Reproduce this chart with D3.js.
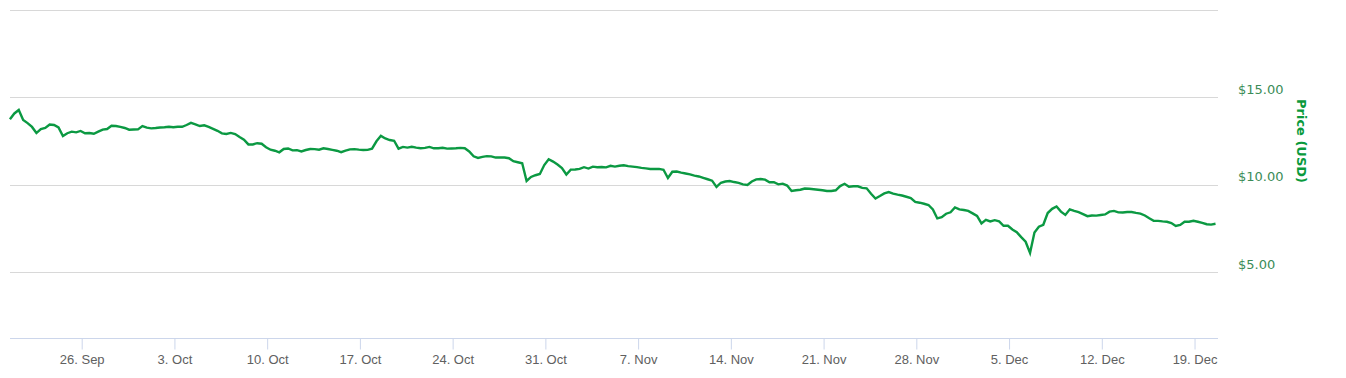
<!DOCTYPE html>
<html>
<head>
<meta charset="utf-8">
<script src="https://cdn.jsdelivr.net/npm/d3@7"></script>
<style>
  html, body { margin: 0; padding: 0; background: #fff; }
  svg { display: block; font-family: "DejaVu Sans", Verdana, sans-serif; }
</style>
</head>
<body>
<div id="chart"></div>
<script>
// ETH price, one reading every 8 hours from the start time
const startTime = new Date(2016, 8, 20, 14, 0);
const stepHours = 8;
const prices = [
  13.73, 14.06, 14.26, 13.69, 13.51, 13.29, 12.94, 13.17, 13.23, 13.43,
  13.40, 13.26, 12.77, 12.93, 13.02, 12.98, 13.06, 12.93, 12.94, 12.90,
  13.02, 13.14, 13.17, 13.36, 13.34, 13.29, 13.23, 13.13, 13.14, 13.15,
  13.34, 13.25, 13.21, 13.23, 13.26, 13.27, 13.30, 13.27, 13.30, 13.30,
  13.40, 13.52, 13.44, 13.34, 13.38, 13.29, 13.18, 13.07, 12.92, 12.89,
  12.95, 12.88, 12.71, 12.56, 12.29, 12.29, 12.36, 12.33, 12.13, 11.99,
  11.93, 11.84, 12.03, 12.06, 11.95, 11.96, 11.89, 11.97, 12.03, 12.02,
  11.99, 12.07, 12.03, 11.98, 11.93, 11.85, 11.94, 12.01, 12.02, 11.99,
  11.97, 11.98, 12.05, 12.47, 12.78, 12.63, 12.54, 12.50, 12.05, 12.15,
  12.11, 12.16, 12.11, 12.07, 12.09, 12.15, 12.07, 12.07, 12.10, 12.05,
  12.06, 12.07, 12.09, 12.07, 11.89, 11.61, 11.52, 11.58, 11.62, 11.61,
  11.54, 11.55, 11.54, 11.50, 11.33, 11.27, 11.21, 10.20, 10.43, 10.53,
  10.60, 11.11, 11.44, 11.31, 11.14, 10.94, 10.57, 10.85, 10.86, 10.89,
  10.99, 10.91, 11.02, 10.99, 11.00, 10.98, 11.07, 11.02, 11.07, 11.10,
  11.05, 11.02, 10.99, 10.95, 10.92, 10.89, 10.89, 10.89, 10.84, 10.37,
  10.73, 10.74, 10.68, 10.63, 10.58, 10.51, 10.46, 10.38, 10.30, 10.22,
  9.86, 10.10, 10.17, 10.20, 10.14, 10.09, 10.01, 9.97, 10.17, 10.29,
  10.31, 10.28, 10.13, 10.13, 10.01, 10.05, 9.94, 9.63, 9.67, 9.70,
  9.77, 9.76, 9.73, 9.70, 9.67, 9.63, 9.63, 9.67, 9.91, 10.04,
  9.87, 9.90, 9.90, 9.81, 9.78, 9.47, 9.20, 9.34, 9.49, 9.57,
  9.48, 9.42, 9.37, 9.30, 9.23, 9.01, 8.96, 8.90, 8.83, 8.57,
  8.06, 8.13, 8.33, 8.41, 8.69, 8.58, 8.54, 8.49, 8.35, 8.20,
  7.78, 7.98, 7.89, 7.96, 7.89, 7.64, 7.64, 7.43, 7.27, 6.99,
  6.73, 6.09, 7.26, 7.59, 7.70, 8.37, 8.61, 8.74, 8.45, 8.26,
  8.58, 8.49, 8.42, 8.31, 8.19, 8.23, 8.22, 8.26, 8.29, 8.45,
  8.49, 8.41, 8.40, 8.43, 8.43, 8.38, 8.34, 8.23, 8.07, 7.93,
  7.92, 7.89, 7.87, 7.80, 7.63, 7.69, 7.87, 7.87, 7.93, 7.87,
  7.81, 7.73, 7.71, 7.76
];
const yTicks = [5, 10, 15];
const yGrid = [5, 10, 15, 20];
const xDomain = [new Date(2016, 8, 20, 14, 8), new Date(2016, 11, 20, 18, 30)];
const yTitle = 'Price (USD)';

const width = 1346, height = 378;
const plot = { left: 10, right: 1218, top: 9.5, bottom: 338 };

const data = prices.map((p, i) => ({ t: d3.timeHour.offset(startTime, i * stepHours), p: p }));

const svg = d3.select('#chart').append('svg')
  .attr('width', width)
  .attr('height', height);

const x = d3.scaleTime().domain(xDomain).range([plot.left, plot.right]);
// $0 would sit below the x axis line; axis starts at ~$1.2
const y = d3.scaleLinear().domain([0, 20]).range([359.5, plot.top]);

// grid
svg.append('g').attr('class', 'grid')
  .selectAll('line')
  .data(yGrid)
  .enter().append('line')
  .attr('x1', plot.left)
  .attr('x2', plot.right)
  .attr('y1', d => Math.round(y(d)) + 0.5)
  .attr('y2', d => Math.round(y(d)) + 0.5)
  .attr('stroke', '#d8d8d8')
  .attr('stroke-width', 1);

// x axis
const xAxis = d3.axisBottom(x)
  .ticks(d3.timeMonday.every(1))
  .tickFormat(d3.timeFormat('%-d. %b'))
  .tickSize(11)
  .tickPadding(5);
const gX = svg.append('g')
  .attr('class', 'x axis')
  .attr('transform', `translate(0,${plot.bottom + 0.5})`)
  .call(xAxis);
gX.select('.domain').attr('stroke', '#ccd6eb').attr('d', `M${plot.left},0H${plot.right}`);
gX.selectAll('.tick line').attr('stroke', '#ccd6eb');
gX.selectAll('.tick text')
  .attr('fill', '#606060')
  .style('font-size', '13px');

// y labels on the right
svg.append('g').attr('class', 'y axis')
  .selectAll('text')
  .data(yTicks)
  .enter().append('text')
  .attr('x', 1238)
  .attr('y', d => y(d) - 3.5)
  .attr('fill', '#3b8c57')
  .style('font-size', '13px')
  .text(d => '$' + d3.format('.2f')(d));

svg.append('text')
  .attr('transform', `translate(1297,141) rotate(90)`)
  .attr('text-anchor', 'middle')
  .attr('fill', '#0a9a3c')
  .style('font-size', '13px')
  .style('font-weight', 'bold')
  .text(yTitle);

// price line
const line = d3.line()
  .x(d => x(d.t))
  .y(d => y(d.p));

svg.append('path')
  .datum(data)
  .attr('fill', 'none')
  .attr('stroke', '#0b9942')
  .attr('stroke-width', 2.4)
  .attr('stroke-linejoin', 'miter')
  .attr('d', line);
</script>
</body>
</html>
